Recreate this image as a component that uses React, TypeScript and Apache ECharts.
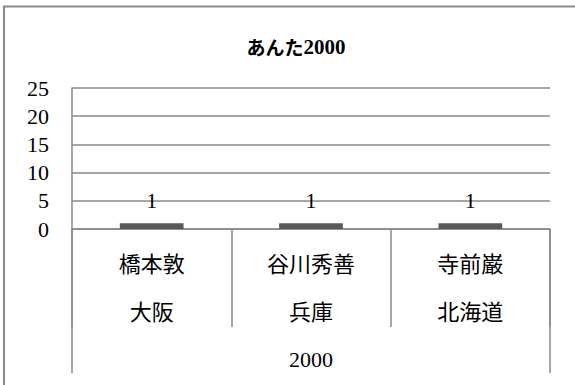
import React, { useEffect, useRef } from "react";
import * as echarts from "echarts";

const names = ["橋本敦", "谷川秀善", "寺前巌"];
const prefectures = ["大阪", "兵庫", "北海道"];
const groupLabels = ["2000"];
const values = [1, 1, 1];
const titleKana = "あんた";
const titleYear = "2000";

const SERIF = "'Liberation Serif', 'DejaVu Serif', 'Noto Sans CJK JP', serif";
const CJK = "'Noto Sans CJK JP', 'Liberation Serif', serif";
const GRAY = "#898989";

export default function App() {
  const ref = useRef<HTMLDivElement>(null);
  useEffect(() => {
    if (!ref.current) return;
    const chart = echarts.init(ref.current, undefined, { renderer: "svg" });
    const cats = names.map((n, i) => n + "\n" + prefectures[i]);
    chart.setOption({
      animation: false,
      backgroundColor: "#ffffff",
      title: {
        text: "{a|" + titleKana + "}{b|" + titleYear + "}",
        left: 291,
        top: 31,
        textAlign: "center",
        textStyle: {
          rich: {
            a: { fontFamily: CJK, fontSize: 19, fontWeight: "bold", color: "#000" },
            b: { fontFamily: SERIF, fontSize: 21, fontWeight: "bold", color: "#000" },
          },
        },
      },
      graphic: [
        {
          type: "rect",
          shape: { x: 4, y: 6.5, width: 700, height: 500 },
          style: { fill: "none", stroke: GRAY, lineWidth: 2 },
          silent: true,
        },
      ],
      grid: { left: 72, right: 25, top: 88, bottom: 156, containLabel: false },
      xAxis: [
        {
          type: "category",
          data: cats,
          position: "bottom",
          axisLine: { show: true, lineStyle: { color: GRAY, width: 1.5 } },
          axisTick: { show: true, length: 98, interval: 0, lineStyle: { color: GRAY, width: 1.5 } },
          axisLabel: {
            interval: 0,
            margin: 9,
            fontFamily: CJK,
            fontSize: 22,
            lineHeight: 48,
            color: "#000",
          },
        },
        {
          type: "category",
          data: groupLabels,
          position: "bottom",
          axisLine: { show: false },
          axisTick: { show: true, length: 144, interval: 0, lineStyle: { color: GRAY, width: 1.5 } },
          axisLabel: {
            interval: 0,
            margin: 119,
            fontFamily: SERIF,
            fontSize: 22,
            lineHeight: 22,
            color: "#000",
          },
        },
      ],
      yAxis: {
        type: "value",
        min: 0,
        max: 25,
        interval: 5,
        axisLine: { show: true, lineStyle: { color: GRAY, width: 1.5 } },
        axisTick: { show: false },
        splitLine: { show: true, lineStyle: { color: GRAY, width: 1.5 } },
        axisLabel: { margin: 23, fontFamily: SERIF, fontSize: 22, color: "#000" },
      },
      series: [
        {
          type: "bar",
          data: values,
          xAxisIndex: 0,
          barWidth: "40%",
          itemStyle: { color: "#595959" },
          label: {
            show: true,
            position: "top",
            distance: 12,
            fontFamily: SERIF,
            fontSize: 22,
            color: "#000",
          },
        },
      ],
    });
    return () => chart.dispose();
  }, []);
  return (
    <div
      ref={ref}
      style={{ position: "fixed", left: 0, top: 0, width: 575, height: 385 }}
    />
  );
}
